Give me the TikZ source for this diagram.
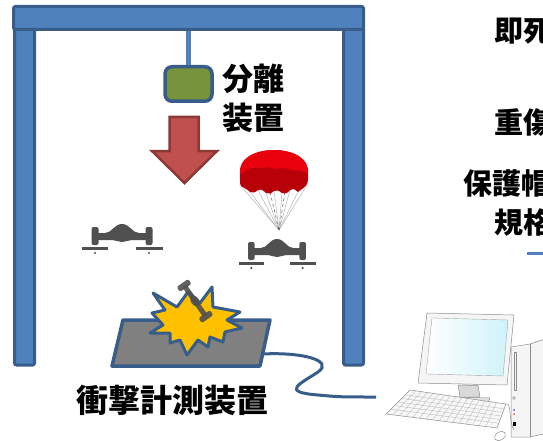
\documentclass[tikz,border=0pt]{standalone}
\usepackage{fontspec}
\newfontfamily\jpfont{Noto Sans CJK JP}
\usetikzlibrary{positioning,shapes.geometric,calc}

\definecolor{framefill}{HTML}{4F81BD}
\definecolor{frameline}{HTML}{385D8A}
\definecolor{sepgreen}{HTML}{77933C}
\definecolor{droparrow}{HTML}{C0504D}
\definecolor{droparrowline}{HTML}{8C3836}
\definecolor{dronegray}{HTML}{505050}
\definecolor{boomyellow}{HTML}{FFC000}
\definecolor{chutered}{HTML}{E8000C}
\definecolor{chutedark}{HTML}{B80008}
\definecolor{screencyan}{HTML}{CFF3FA}

\tikzset{
  framebar/.style={draw=frameline, fill=framefill, line width=3pt, rounded corners=2pt, inner sep=0pt},
  sepbox/.style={draw=frameline, fill=sepgreen, line width=3.5pt, rounded corners=7pt,
    minimum width=47pt, minimum height=34.5pt, inner sep=0pt},
  rod/.style={draw=framefill, line width=4.5pt},
  cable/.style={draw=frameline, line width=3pt},
  plate/.style={draw=frameline, fill=gray, line width=3.5pt, line join=round},
  boom/.style={draw=frameline, fill=boomyellow, line width=3pt, line join=round},
  jptext/.style={font=\jpfont\bfseries, inner sep=0pt, align=center},
  pcline/.style={draw=black!45, line width=0.5pt, line join=round},
  pics/uav/.style={code={
    % body and arms
    \fill[dronegray] (-27,4) -- (-27,-3) -- (-17,-3) .. controls (-10,-3) and (-8,-12) .. (0,-12)
      .. controls (8,-12) and (10,-3) .. (17,-3) -- (27,-3) -- (27,4) -- (12,4)
      .. controls (6,4) and (4,6) .. (0,6) .. controls (-4,6) and (-6,4) .. (-12,4) -- cycle;
    % motor posts
    \fill[dronegray, rounded corners=2pt] (-30.5,-9) rectangle (-23.5,9);
    \fill[dronegray, rounded corners=2pt] (23.5,-9) rectangle (30.5,9);
    % rotors
    \fill[dronegray] (-40,10.5) rectangle (-14,13.5);
    \fill[dronegray] (14,10.5) rectangle (41,13.5);
    \fill[dronegray] (-27,17) circle (1.2);
    \fill[dronegray] (27,17) circle (1.2);
  }},
}

\begin{document}
\begin{tikzpicture}[x=1pt, y=-1pt]
  \useasboundingbox (0,0) rectangle (543,441);
  \clip (0,0) rectangle (543,441);

  % test rig
  \node[framebar, minimum width=20pt, minimum height=338pt] (lpost) at (24.5,196) {};
  \node[framebar, minimum width=20pt, minimum height=338pt] (rpost) at (353.5,196) {};
  \node[framebar, minimum width=350pt, minimum height=23pt] (beam) at (188.5,18) {};

  \node[sepbox] (sep) at (188.5,84) {};
  \draw[rod] (sep.north) -- (sep.north |- beam.south);
  \node[jptext, font=\jpfont\bfseries\fontsize{31}{38.5}\selectfont, anchor=west]
    (seplbl) [right=9pt of sep, yshift=-14.5pt] {分離\\装置};

  % drop direction
  \draw[fill=droparrow, draw=droparrowline, line width=2.5pt]
    (169.5,117) -- (198.5,117) -- (198.5,151) -- (217,151) -- (184.5,183)
    -- (152,151) -- (169.5,151) -- cycle;

  % free fall
  \pic at (122,236) {uav};

  % parachute
  \foreach \px/\py in {241/186,250/192,258/190,266/193,274/191,282/193,290/190,298/192,307/185}
    \draw[black!35, line width=0.4pt] (\px,\py) -- (279,230);
  \draw[black!80, line width=0.4pt, dashed] (270,192) -- (279,230);
  \draw[black!80, line width=0.4pt, dashed] (285,192) -- (279,230);
  \fill[chutedark] (240,180) .. controls (238,160) and (255,150) .. (274,150)
    .. controls (293,150) and (310,160) .. (308,180)
    .. controls (308,186) and (303,188) .. (298,192) .. controls (294,188) and (292,189) .. (290,190)
    .. controls (287,194) and (284,194) .. (282,193) .. controls (278,190) and (276,190) .. (274,191)
    .. controls (271,194) and (268,194) .. (266,193) .. controls (262,189) and (260,189) .. (258,190)
    .. controls (255,193) and (252,193) .. (250,192) .. controls (246,188) and (243,188) .. (241,186)
    .. controls (240,184) .. (240,180) -- cycle;
  \fill[chutered] (240,174) .. controls (238,158) and (255,150) .. (274,150)
    .. controls (293,150) and (310,158) .. (308,174)
    .. controls (300,168) and (294,172) .. (288,169) .. controls (282,166) and (278,171) .. (272,168)
    .. controls (266,165) and (262,170) .. (256,168) .. controls (250,166) and (246,171) .. (240,174) -- cycle;
  \pic[xscale=.95] at (277,251) {uav};

  % impact on the sensor plate
  \draw[plate] (123,320) -- (270,320) -- (260,366) -- (112,366) -- cycle;
  \coordinate (plateport) at (263,354);
  \draw[boom] (153,293) -- (177,307) -- (188,292) -- (200,303) -- (212,287) -- (213,307)
    -- (240,312) -- (227,320) -- (242,328) -- (225,332) -- (223,342) -- (210,337)
    -- (208,347) -- (198,340) -- (187,355) -- (180,340) -- (170,343) -- (170,333)
    -- (150,333) -- (163,325) -- (152,313) -- (165,310) -- cycle;
  \begin{scope}[shift={(195,301)}, rotate=-55, dronegray, opacity=.9]
    \fill (-18,-2.5) rectangle (18,2.5);
    \fill[rounded corners=1.5pt] (-22,-7) rectangle (-16,7);
    \fill[rounded corners=1.5pt] (16,-7) rectangle (22,7);
    \fill (0,0) ellipse (6 and 4);
  \end{scope}
  \node[jptext, font=\jpfont\bfseries\fontsize{32}{38}\selectfont] (platelbl) at (172,400) {衝撃計測装置};

  % personal computer
  \coordinate (pcport) at (376,397);
  \draw[cable] (plateport) .. controls (300,352) and (335,360) .. (318,372)
    .. controls (300,384) and (280,392) .. (318,395) .. controls (340,397) .. (pcport);
  \draw[pcline, fill=gray!8] (511,347) -- (530,344) -- (560,334) -- (560,430) -- (530,437) -- (511,437) -- cycle;
  \draw[pcline] (530,344) -- (530,437);
  \draw[pcline] (514,352) rectangle (516,390);
  \draw[pcline] (514,398) circle (1.5);
  \fill[blue!70] (514,410) circle (1);
  \fill[red!70] (514,414) circle (1);
  \fill[black] (513,422) rectangle (515.5,426);
  \draw[pcline, fill=gray!8] (427,313) -- (514,315) -- (507,385) -- (418,383) -- cycle;
  \shade[left color=white, right color=screencyan, draw=black!35, line width=.4pt]
    (432,318) -- (508,320) -- (503,376) -- (426,374) -- cycle;
  \draw[pcline, fill=gray!30] (458,385) -- (478,385.5) -- (480,397) -- (460,397) -- cycle;
  \draw[pcline, fill=gray!20] (449,397) -- (490,398) -- (488,403) -- (447,402) -- cycle;
  \coordinate (kb1) at (386,414);
  \coordinate (kb2) at (410,390);
  \coordinate (kb3) at (506,404);
  \coordinate (kb4) at (497,428);
  \draw[pcline, fill=gray!6] (kb1) -- (kb2) -- (kb3) -- (kb4) -- cycle;
  \foreach \t in {.2,.35,.5,.65,.8}
    \draw[black!30, line width=.3pt] ($(kb1)!\t!(kb2)$) -- ($(kb4)!\t!(kb3)$);
  \foreach \t in {.06,.12,...,.95}
    \draw[black!30, line width=.3pt] ($(kb1)!\t!(kb4)$) -- ($(kb2)!\t!(kb3)$);
  \draw[pcline] (506,404) .. controls (512,402) and (508,420) .. (514,430);
  \draw[pcline, fill=white, rotate around={30:(500,436)}] (500,436) ellipse (6 and 4);

  % table on the right
  \node[jptext, font=\jpfont\bfseries\fontsize{29}{34}\selectfont, anchor=west] (rowa) at (494,31.5) {即死};
  \node[jptext, font=\jpfont\bfseries\fontsize{29}{34}\selectfont, anchor=west] (rowb) at (494,122.5) {重傷};
  \node[jptext, font=\jpfont\bfseries\fontsize{29}{34}\selectfont, anchor=west] (rowc) at (463,183) {保護帽};
  \node[jptext, font=\jpfont\bfseries\fontsize{29}{34}\selectfont, anchor=west] (rowd) at (494,222) {規格};
  \coordinate (rulea) at (527,253);
  \coordinate (ruleb) at (560,253);
  \draw[draw=framefill, line width=3pt] (rulea) -- (ruleb);
\end{tikzpicture}
\end{document}
